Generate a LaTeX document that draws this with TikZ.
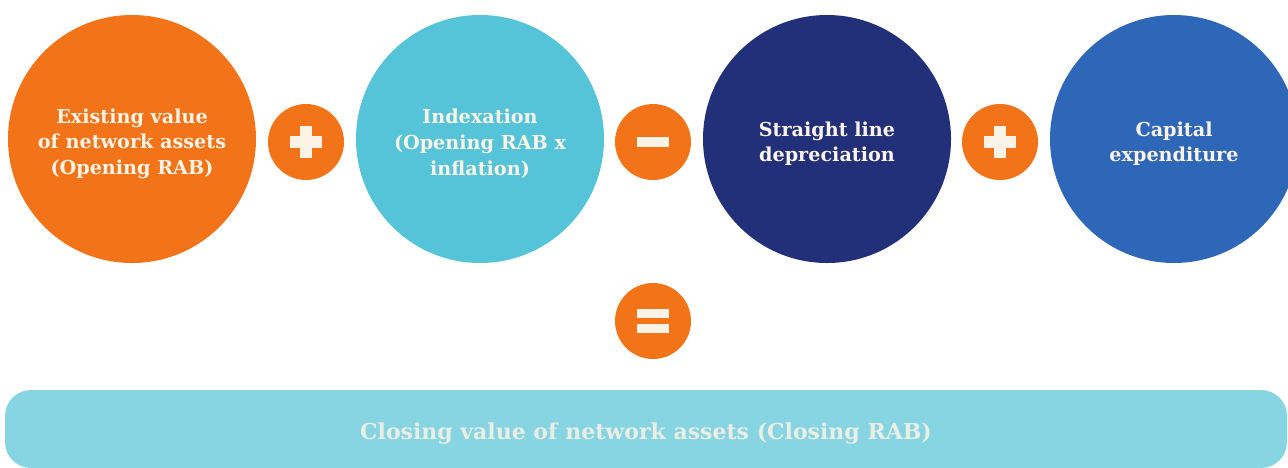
\documentclass[tikz,border=0pt]{standalone}
\usepackage{fontspec}
\setmainfont{DejaVu Serif}
\definecolor{rabOrange}{HTML}{F27318}
\definecolor{rabTeal}{HTML}{55C3D8}
\definecolor{rabNavy}{HTML}{22307A}
\definecolor{rabBlue}{HTML}{2F67B8}
\definecolor{rabBar}{HTML}{87D4E2}
\definecolor{rabText}{HTML}{FBF4E6}
\begin{document}
\begin{tikzpicture}[x=0.5pt,y=-0.5pt,inner sep=0,
	term/.style={circle,minimum size=124pt},
	termtext/.style={text=rabText,align=center,yshift=-2.3pt,
		font=\fontsize{9.6}{12.8}\selectfont\bfseries},
	op/.style={circle,fill=rabOrange,minimum size=38pt},
	sign/.style={draw=rabText,line width=5.6pt},
	total/.style={rectangle,rounded corners=13pt,fill=rabBar,minimum width=641pt,
		minimum height=39pt}]
		\clip (0,0) rectangle (1288,467);
		% the four terms of the roll forward
		\node[term,fill=rabOrange,label={[termtext]center:Existing value\\of network assets\\(Opening RAB)}] (open) at (132,139) {};
		\node[term,fill=rabTeal,label={[termtext]center:Indexation\\(Opening RAB x\\inflation)}] (index) at (480,139) {};
		\node[term,fill=rabNavy,label={[termtext]center:Straight line\\depreciation}] (dep) at (827,139) {};
		\node[term,fill=rabBlue,label={[termtext]center:Capital\\expenditure}] (capex) at (1174,139) {};
		% operators
		\node[op] (plusA) at (306,142) {};
		\node[op] (minus) at (653,142) {};
		\node[op] (plusB) at (1000,142) {};
		\node[op] (equals) at (653,321) {};
		\draw[sign] ([xshift=-8.2pt]plusA.center) -- ([xshift=8.2pt]plusA.center);
		\draw[sign] ([yshift=-8.2pt]plusA.center) -- ([yshift=8.2pt]plusA.center);
		\draw[sign,line width=5pt] ([xshift=-8.2pt]minus.center) -- ([xshift=8.2pt]minus.center);
		\draw[sign] ([xshift=-8.2pt]plusB.center) -- ([xshift=8.2pt]plusB.center);
		\draw[sign] ([yshift=-8.2pt]plusB.center) -- ([yshift=8.2pt]plusB.center);
		\draw[sign,line width=4.6pt] ([xshift=-8.2pt,yshift=3.8pt]equals.center) -- ([xshift=8.2pt,yshift=3.8pt]equals.center);
		\draw[sign,line width=4.6pt] ([xshift=-8.2pt,yshift=-3.8pt]equals.center) -- ([xshift=8.2pt,yshift=-3.8pt]equals.center);
		% result
		\node[total,label={[termtext,text=rabText!85!rabBar,font=\fontsize{11}{13}\selectfont\bfseries]center:Closing value of network assets (Closing RAB)}] (close) at (646,429) {};
	\end{tikzpicture}
\end{document}
